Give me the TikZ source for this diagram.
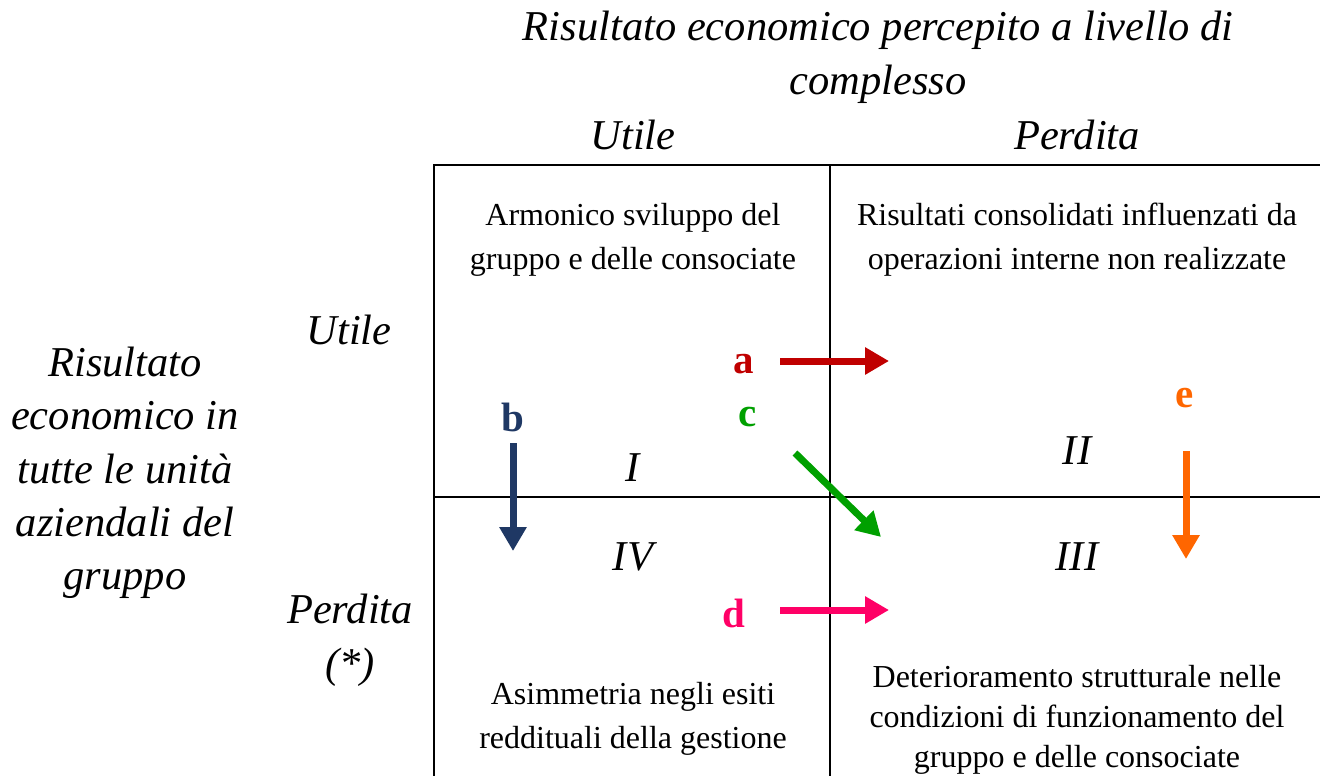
\documentclass[tikz,border=0pt]{standalone}
\usepackage{fontspec}
\setmainfont{Liberation Serif}
\usetikzlibrary{arrows.meta, positioning}

\begin{document}
\begin{tikzpicture}[
        x=1pt, y=-1pt,
        heading/.style={font=\fontsize{42.5}{54}\selectfont\itshape, align=center, inner sep=0pt},
        cell/.style={font=\fontsize{32}{44}\selectfont, align=center, inner sep=0pt},
        numeral/.style={font=\fontsize{42.5}{44}\selectfont\itshape, inner sep=0pt},
        letter/.style={font=\fontsize{41}{44}\selectfont\bfseries, inner sep=0pt},
        grid/.style={line width=2.5pt, black},
        move/.style={line width=7pt, -{Triangle[length=24pt, width=26pt]}}
    ]
    \useasboundingbox (0,0) rectangle (1320,776);

    % --- Grid ---
    \draw[grid] (434,776) -- (434,165) -- (1320,165);
    \draw[grid] (830,165) -- (830,776);
    \draw[grid] (434,497) -- (1320,497);

    % --- Headings ---
    \node[heading] (top) at (878,57) {Risultato economico percepito a livello di\\complesso};
    \node[heading] (colU) at (633,135) {Utile};
    \node[heading] (colP) at (1077,135) {Perdita};
    \node[heading, font=\fontsize{42.5}{53.3}\selectfont\itshape] (side) at (125,473) {Risultato\\economico in\\tutte le unità\\aziendali del\\gruppo};
    \node[heading] (rowU) at (349,330) {Utile};
    \node[heading] (rowP) at (350,640) {Perdita\\(*)};

    % --- Cells ---
    \node[cell] (armonico) at (633,240) {Armonico sviluppo del\\gruppo e delle consociate};
    \node[cell] (consolidati) at (1077,240) {Risultati consolidati influenzati da\\operazioni interne non realizzate};
    \node[cell] (asimmetria) at (633,719) {Asimmetria negli esiti\\reddituali della gestione};
    \node[cell, font=\fontsize{32}{40}\selectfont] (deterioramento) at (1077,720) {Deterioramento strutturale nelle\\condizioni di funzionamento del\\gruppo e delle consociate};

    % --- Quadrants ---
    \node[numeral] (qI) at (633,468) {I};
    \node[numeral] (qII) at (1077,451) {II};
    \node[numeral] (qIV) at (633,557) {IV};
    \node[numeral] (qIII) at (1077,557) {III};

    % --- Movements ---
    \node[letter, color={rgb,255:red,192;green,0;blue,0}] (a) at (744,364) {a};
    \node[letter, color={rgb,255:red,31;green,56;blue,100}] (b) at (513,417) {b};
    \node[letter, color={rgb,255:red,0;green,160;blue,0}] (c) at (748,417) {c};
    \node[letter, color={rgb,255:red,255;green,0;blue,102}] (d) at (734,613) {d};
    \node[letter, color={rgb,255:red,255;green,102;blue,0}] (e) at (1185,398) {e};

    \coordinate (aS) at (780,361);  \coordinate (aE) at (889,361);
    \coordinate (bS) at (513,443);  \coordinate (bE) at (513,551);
    \coordinate (cS) at (795,453);  \coordinate (cE) at (881,537);
    \coordinate (dS) at (780,610);  \coordinate (dE) at (889,610);
    \coordinate (eS) at (1186,451); \coordinate (eE) at (1186,559);

    \draw[move, color={rgb,255:red,192;green,0;blue,0}] (aS) -- (aE);
    \draw[move, color={rgb,255:red,31;green,56;blue,100}] (bS) -- (bE);
    \draw[move, color={rgb,255:red,0;green,160;blue,0}] (cS) -- (cE);
    \draw[move, color={rgb,255:red,255;green,0;blue,102}] (dS) -- (dE);
    \draw[move, color={rgb,255:red,255;green,102;blue,0}] (eS) -- (eE);

\end{tikzpicture}
\end{document}
